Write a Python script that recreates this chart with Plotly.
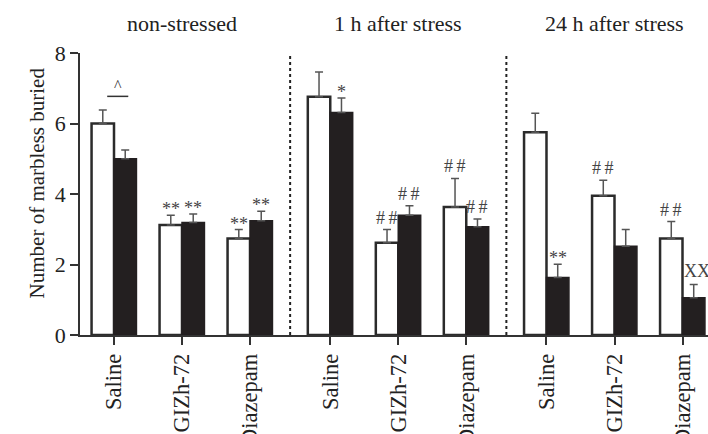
import plotly.graph_objects as go

# ---- data ----
panels = ["non-stressed", "1 h after stress", "24 h after stress"]
treatments = ["Saline", "GIZh-72", "Diazepam"]

white_mean = [6.0, 3.12, 2.74, 6.76, 2.62, 3.63, 5.75, 3.95, 2.74]
white_err = [0.38, 0.28, 0.25, 0.70, 0.37, 0.81, 0.54, 0.44, 0.48]
black_mean = [5.0, 3.19, 3.24, 6.31, 3.40, 3.07, 1.63, 2.52, 1.06]
black_err = [0.25, 0.24, 0.27, 0.41, 0.27, 0.22, 0.38, 0.47, 0.37]

# significance labels: (bar index, series 'w'/'b', text)
sig_labels = [
    (1, "w", "**"), (1, "b", "**"), (2, "w", "**"), (2, "b", "**"),
    (3, "b", "*"),
    (4, "w", "##"), (4, "b", "##"), (5, "w", "##"), (5, "b", "##"),
    (6, "b", "**"), (7, "w", "##"), (8, "w", "##"), (8, "b", "XX"),
]
caret_level = 6.77  # "^" bracket height over non-stressed saline pair

# ---- layout constants ----
PANEL_STEP = 3.18
BAR_W = 0.33
FONT = "Liberation Serif"
INK = "#231f20"

xpos = [p * PANEL_STEP + i for p in range(len(panels)) for i in range(len(treatments))]
ticktext = treatments * len(panels)

fig = go.Figure()
fig.add_trace(go.Bar(
    x=xpos, y=white_mean, width=BAR_W, offset=-BAR_W,
    marker=dict(color="white", line=dict(color="#2b2b2b", width=2.5)),
    error_y=dict(type="data", symmetric=False, array=white_err,
                 arrayminus=[0] * len(white_err), color="#555", thickness=1.5, width=4),
    showlegend=False, hoverinfo="skip",
))
fig.add_trace(go.Bar(
    x=xpos, y=black_mean, width=BAR_W, offset=0,
    marker=dict(color=INK, line=dict(color=INK, width=1.5)),
    error_y=dict(type="data", symmetric=False, array=black_err,
                 arrayminus=[0] * len(black_err), color="#555", thickness=1.5, width=4),
    showlegend=False, hoverinfo="skip",
))

annotations = []
for idx, s, txt in sig_labels:
    if s == "w":
        xc = xpos[idx] - BAR_W / 2
        top = white_mean[idx] + white_err[idx]
    else:
        xc = xpos[idx] + BAR_W / 2
        top = black_mean[idx] + black_err[idx]
    ys = 6 if "*" in txt else 12
    shown = txt
    if txt == "##":
        shown = "#\u2009#"
    if txt == "XX":
        xc += 0.05
        ys = 14
    annotations.append(dict(x=xc, y=top, xref="x", yref="y", text=shown,
                            showarrow=False, yanchor="middle", yshift=ys,
                            font=dict(family=FONT, size=18, color="#444")))

# caret bracket
annotations.append(dict(x=xpos[0] + 0.06, y=caret_level, xref="x", yref="y", text="^",
                        showarrow=False, yanchor="bottom", yshift=0,
                        font=dict(family=FONT, size=16, color="#333")))
shapes = [dict(type="line", xref="x", yref="y", x0=xpos[0] - 0.10, x1=xpos[0] + 0.21,
               y0=caret_level, y1=caret_level, line=dict(color="#333", width=1.5))]

# panel dividers and titles
for p in range(len(panels)):
    center = p * PANEL_STEP + (len(treatments) - 1) / 2
    annotations.append(dict(x=center, y=1.106, xref="x", yref="paper", text=panels[p],
                            showarrow=False, yanchor="middle",
                            font=dict(family=FONT, size=22, color="#222")))
    if p > 0:
        xd = ((p - 1) * PANEL_STEP + len(treatments) - 1 + p * PANEL_STEP) / 2
        shapes.append(dict(type="line", xref="x", yref="y", x0=xd, x1=xd, y0=0, y1=8,
                           line=dict(color="#222", width=2, dash="dot")))

annotations.append(dict(x=-0.0908, y=0.541, xref="paper", yref="paper",
                        text="Number of marbless buried", textangle=-90, showarrow=False,
                        font=dict(family=FONT, size=21, color="#222")))

fig.update_layout(
    width=708, height=434,
    margin=dict(l=80, r=0, t=53, b=99, autoexpand=False),
    plot_bgcolor="white", paper_bgcolor="white",
    font=dict(family=FONT, size=20, color="#222"),
    annotations=annotations, shapes=shapes,
    barmode="overlay",
)
fig.update_xaxes(range=[-0.5, 8.735], tickvals=xpos, ticktext=ticktext, tickangle=-90,
                 automargin=False,
                 showline=True, linecolor="#333", linewidth=1.5, ticks="outside",
                 ticklen=8, tickwidth=1.5, tickcolor="#333", showgrid=False, zeroline=False,
                 tickfont=dict(family=FONT, size=22.5, color="#222"))
fig.update_yaxes(range=[0, 8], tickvals=[0, 2, 4, 6, 8], showline=True, linecolor="#333",
                 automargin=False,
                 linewidth=1.5, ticks="outside", ticklen=8, tickwidth=1.5, tickcolor="#333",
                 showgrid=False, zeroline=False,
                 tickfont=dict(family=FONT, size=22, color="#222"))

fig.write_html("out.html", config={"displayModeBar": False},
               post_script="document.body.style.margin='0';document.body.style.overflow='hidden';")
